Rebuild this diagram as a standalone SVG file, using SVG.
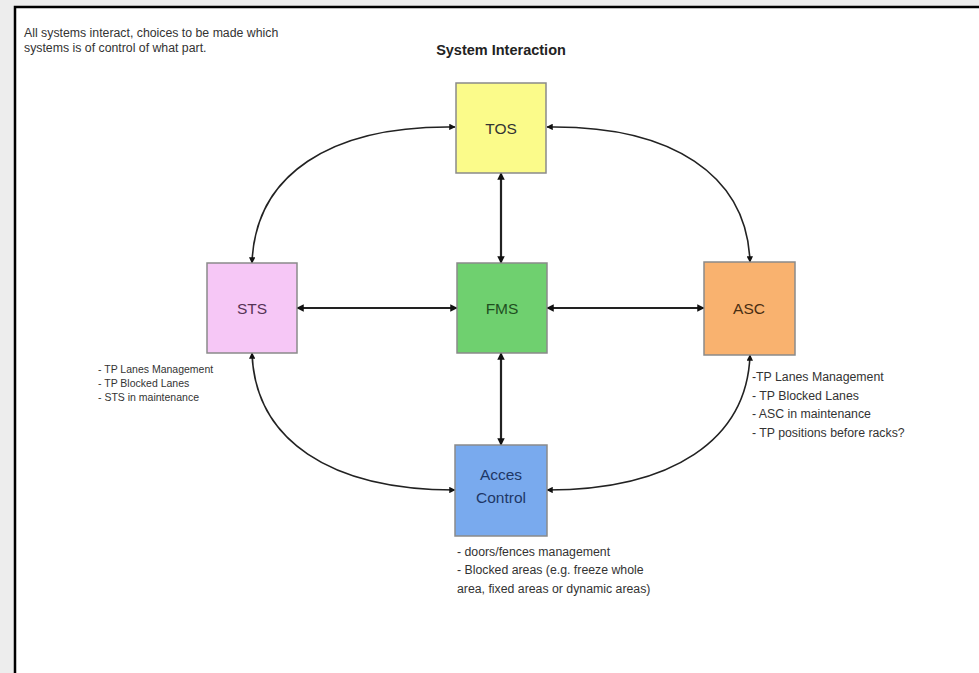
<svg xmlns="http://www.w3.org/2000/svg" width="979" height="673" viewBox="0 0 979 673">
<style>
.box{stroke:#8a8a8a;stroke-width:1.5}
.lbl{font-family:"Liberation Sans",Arial,sans-serif;font-size:15.5px;text-anchor:middle}
.note{font-family:"Liberation Sans",Arial,sans-serif;font-size:10.5px;fill:#333}
.note12{font-family:"Liberation Sans",Arial,sans-serif;font-size:12.3px;fill:#333}
.con{fill:none;stroke:#222;stroke-width:1.6}
.conb{fill:none;stroke:#222;stroke-width:2.2}
</style>
<defs>
<marker id="ah" viewBox="0 0 10 10" refX="9" refY="5" markerWidth="4" markerHeight="4" orient="auto-start-reverse" markerUnits="strokeWidth">
<path d="M0,0 L10,5 L0,10 z" fill="#111"/>
</marker>
<marker id="ahb" viewBox="0 0 10 10" refX="9" refY="5" markerWidth="3.4" markerHeight="3.4" orient="auto-start-reverse" markerUnits="strokeWidth">
<path d="M0,0 L10,5 L0,10 z" fill="#111"/>
</marker>
</defs>
<rect x="0" y="0" width="979" height="673" fill="#ededed"/>
<rect x="15" y="7" width="970" height="670" fill="#ffffff" stroke="#000" stroke-width="2.5"/>
<g id="notes-top">
<text class="note12" x="24" y="37">All systems interact, choices to be made which</text>
<text class="note12" x="24" y="52">systems is of control of what part.</text>
<text x="501" y="55" font-family="'Liberation Sans',Arial,sans-serif" font-size="14.5px" font-weight="bold" fill="#222" text-anchor="middle">System Interaction</text>
</g>
<g id="connectors">
<path class="con" d="M455,127 C330,125 255,175 252,263" marker-start="url(#ah)" marker-end="url(#ah)"/>
<path class="con" d="M547,127 C672,125 747,175 750,262" marker-start="url(#ah)" marker-end="url(#ah)"/>
<path class="conb" d="M501,173 L501,263" marker-start="url(#ahb)" marker-end="url(#ahb)"/>
<path class="conb" d="M297,308 L457,308" marker-start="url(#ahb)" marker-end="url(#ahb)"/>
<path class="conb" d="M547,308 L704,308" marker-start="url(#ahb)" marker-end="url(#ahb)"/>
<path class="conb" d="M501,353 L501,445" marker-start="url(#ahb)" marker-end="url(#ahb)"/>
<path class="con" d="M252,353 C255,440 330,490 455,490" marker-start="url(#ah)" marker-end="url(#ah)"/>
<path class="con" d="M750,355 C747,440 672,490 547,490" marker-start="url(#ah)" marker-end="url(#ah)"/>
</g>
<g id="TOS">
<rect class="box" x="456" y="83" width="90" height="90" fill="#fbfb8a"/>
<text class="lbl" x="501" y="134" fill="#333">TOS</text>
</g>
<g id="STS">
<rect class="box" x="207" y="263" width="90" height="90" fill="#f6c7f6"/>
<text class="lbl" x="252" y="314" fill="#553355">STS</text>
</g>
<g id="FMS">
<rect class="box" x="457" y="263" width="90" height="90" fill="#6fd06f"/>
<text class="lbl" x="502" y="314" fill="#1f4f1f">FMS</text>
</g>
<g id="ASC">
<rect class="box" x="704" y="262" width="91" height="93" fill="#f9b26f"/>
<text class="lbl" x="749" y="314" fill="#4a2e12">ASC</text>
</g>
<g id="AccesControl">
<rect class="box" x="455" y="445" width="92" height="91" fill="#79aaee"/>
<text class="lbl" x="501" y="480" fill="#1e3766">Acces</text>
<text class="lbl" x="501" y="503" fill="#1e3766">Control</text>
</g>
<g id="notes-sts">
<text class="note" x="98" y="373">- TP Lanes Management</text>
<text class="note" x="98" y="387">- TP Blocked Lanes</text>
<text class="note" x="98" y="401">- STS in maintenance</text>
</g>
<g id="notes-asc">
<text class="note12" x="752" y="381">-TP Lanes Management</text>
<text class="note12" x="752" y="400">- TP Blocked Lanes</text>
<text class="note12" x="752" y="418">- ASC in maintenance</text>
<text class="note12" x="752" y="437">- TP positions before racks?</text>
</g>
<g id="notes-acces">
<text class="note12" x="457" y="556">- doors/fences management</text>
<text class="note12" x="457" y="574">- Blocked areas (e.g. freeze whole</text>
<text class="note12" x="457" y="593">area, fixed areas or dynamic areas)</text>
</g>
</svg>
